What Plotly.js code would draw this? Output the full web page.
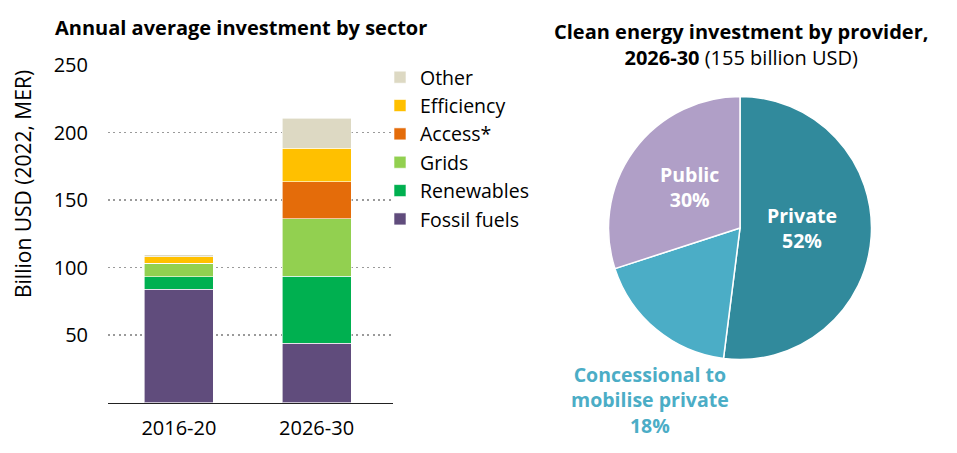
<!DOCTYPE html>
<html><head><meta charset="utf-8">
<script src="https://cdn.plot.ly/plotly-3.0.1.min.js"></script>
<style>html,body{margin:0;padding:0;background:#fff}#chart{width:957px;height:453px}</style>
</head><body><div id="chart"></div>
<script>
// ---- data ----
const periods = ["2016-20", "2026-30"];
const sectors = ["Fossil fuels", "Renewables", "Grids", "Access*", "Efficiency", "Other"];
const fossil = [84, 44];
const renewables = [9, 49.5];
const grids = [10, 42.5];
const access = [0, 27.5];
const efficiency = [5, 25];
const other = [1.5, 22];
const sectorColors = ["#604c7c", "#00b050", "#92d050", "#e46c0a", "#ffc000", "#ddd9c3"];
const yTicks = [50, 100, 150, 200, 250];

const providers = ["Private", "Concessional to mobilise private", "Public"];
const providerShares = [52, 18, 30];
const providerColors = ["#318a9c", "#4badc6", "#b09fc7"];

const FONT = "'Open Sans', 'Noto Sans', sans-serif";
const series = [fossil, renewables, grids, access, efficiency, other];

const traces = series.map((vals, i) => ({
  type: "bar", x: periods, y: vals, name: sectors[i],
  marker: {color: sectorColors[i], line: {color: "#ffffff", width: 0.6}},
  width: 0.5, xaxis: "x", yaxis: "y", hoverinfo: "skip"
}));

traces.push({
  type: "pie", labels: providers, values: providerShares, sort: false,
  direction: "clockwise", rotation: 0, textinfo: "none", showlegend: false,
  marker: {colors: providerColors, line: {color: "#ffffff", width: 1.5}},
  domain: {x: [608.5/957, 871.5/957], y: [(453-359.5)/453, (453-96.5)/453]},
  hoverinfo: "skip"
});

const W = 957, H = 453;
const px = (x) => x / W, py = (y) => (H - y) / H;
const ann = (text, x, y, size, color, extra) => Object.assign({
  text: text, x: px(x), y: py(y), xanchor: "center", yanchor: "middle", align: "center",
  showarrow: false, xref: "paper", yref: "paper", font: {family: FONT, size: size, color: color}
}, extra || {});

const annotations = [
  ann("<b>Annual average investment by sector</b>", 53, 28, 20, "#000", {xanchor: "left"}),
  ann("<b>Clean energy investment by provider,</b><br><b>2026-30</b> (155 billion USD)", 741, 45, 20, "#000"),
  ann("<b>" + providers[0] + "<br>" + providerShares[0] + "%</b>", 802, 228, 19.5, "#ffffff"),
  ann("<b>" + providers[2] + "<br>" + providerShares[2] + "%</b>", 689, 187, 19.5, "#ffffff"),
  ann("<b>Concessional to<br>mobilise private<br>" + providerShares[1] + "%</b>", 650, 400, 19.5, providerColors[1]),
  ann("Billion USD (2022, MER)", 23, 184, 21, "#000", {textangle: -90})
];

const layout = {
  width: W, height: H, margin: {l: 0, r: 0, t: 0, b: 0},
  paper_bgcolor: "#fff", plot_bgcolor: "rgba(0,0,0,0)",
  barmode: "stack",
  font: {family: FONT, size: 20, color: "#000"},
  xaxis: {domain: [px(108), px(393)], range: [-0.515, 1.555], showline: true, linecolor: "#222", linewidth: 1.5,
          ticks: "", showgrid: false, zeroline: false, ticklabelstandoff: 7,
          tickfont: {family: FONT, size: 20, color: "#000"}},
  yaxis: {domain: [py(402.5), py(65)], range: [0, 250], tickvals: yTicks, showline: false, zeroline: false,
          showgrid: true, gridcolor: "#9a9a9a", griddash: "2px,3.4px", gridwidth: 1.6, ticklabelstandoff: 19,
          tickfont: {family: FONT, size: 20, color: "#000"}},
  showlegend: true,
  legend: {x: px(380), y: py(58), xanchor: "left", yanchor: "top", traceorder: "reversed",
           font: {family: FONT, size: 19.5, color: "#000"}, bgcolor: "rgba(0,0,0,0)", itemwidth: 30, tracegroupgap: 0},
  annotations: annotations
};

Plotly.newPlot("chart", traces, layout, {displayModeBar: false, staticPlot: true});
</script>
</body></html>
